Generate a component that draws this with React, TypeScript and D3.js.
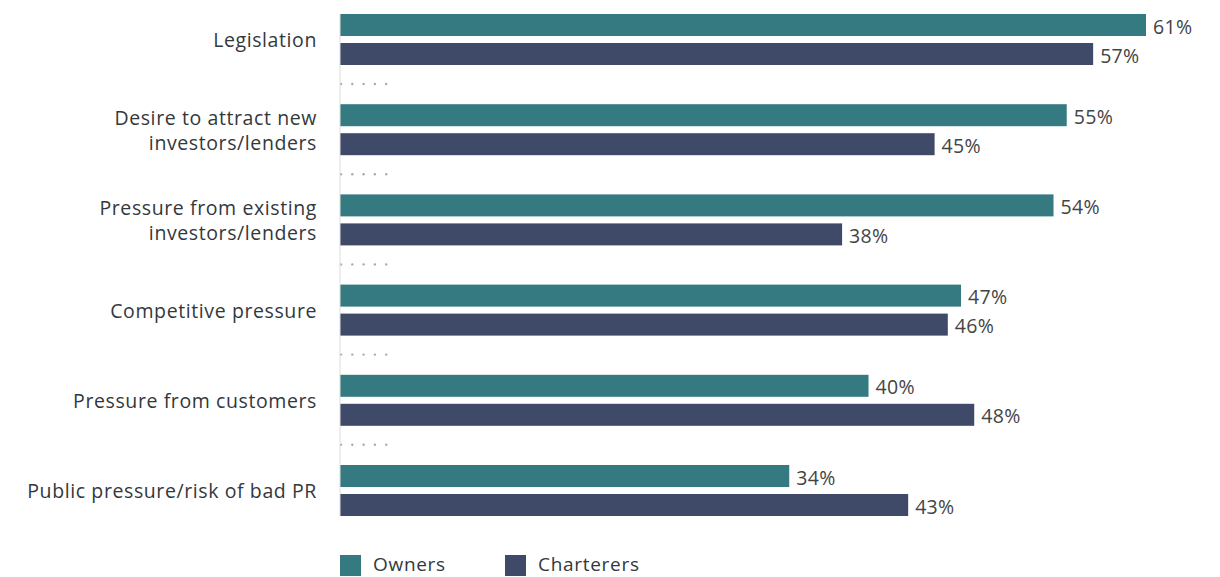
import React from "react";
import * as d3 from "d3";

const categories: string[][] = [
  ["Legislation"],
  ["Desire to attract new", "investors/lenders"],
  ["Pressure from existing", "investors/lenders"],
  ["Competitive pressure"],
  ["Pressure from customers"],
  ["Public pressure/risk of bad PR"],
];
const owners = [61, 55, 54, 47, 40, 34];
const charterers = [57, 45, 38, 46, 48, 43];
const seriesNames = ["Owners", "Charterers"];
const colors = ["#347A80", "#3F4A69"];

export default function App() {
  const W = 1220, H = 577;
  const x0 = 340;
  const x = d3.scaleLinear().domain([0, 61]).range([x0, 1146]);
  const barH = 22;
  const gap = 7;
  const font = "'Open Sans', Lato, sans-serif";
  return (
    <svg width={W} height={H} style={{ position: "absolute", left: 0, top: 0 }}>
      <rect width={W} height={H} fill="#fff" />
      {categories.map((cat, i) => {
        const top = 14 + i * 90.2;
        const cy = top + barH + gap / 2;
        const vals = [owners[i], charterers[i]];
        return (
          <g key={i}>
            {cat.map((line, j) => (
              <text key={j} x={317} y={cy + (j - (cat.length - 1) / 2) * 25} textAnchor="end" dominantBaseline="central"
                fontFamily={font} fontSize={19.5} letterSpacing={0.6} fill="#33383c">{line}</text>
            ))}
            {vals.map((v, s) => {
              const by = top + s * (barH + gap);
              return (
                <g key={s}>
                  <rect x={x0} y={by} width={x(v) - x0} height={barH} fill={colors[s]} />
                  <text x={x(v) + 7} y={by + barH / 2 + 1} dominantBaseline="central" fontFamily={font} fontSize={19.5} letterSpacing={0.3} fill="#444">{v}%</text>
                </g>
              );
            })}
            {i < categories.length - 1 &&
              d3.range(5).map((k) => (
                <circle key={k} cx={341 + k * 11.3} cy={top + 70} r={1.2} fill="#aaa" />
              ))}
          </g>
        );
      })}
      <line x1={x0} x2={x0} y1={14} y2={516} stroke="#ddd" strokeWidth={1} />
      {seriesNames.map((n, s) => {
        const lx = s === 0 ? 340 : 505;
        return (
          <g key={n}>
            <rect x={lx} y={555} width={21} height={21} fill={colors[s]} />
            <text x={lx + 33} y={563.5} dominantBaseline="central" fontFamily={font} fontSize={19} letterSpacing={0.7} fill="#33383c">{n}</text>
          </g>
        );
      })}
    </svg>
  );
}
